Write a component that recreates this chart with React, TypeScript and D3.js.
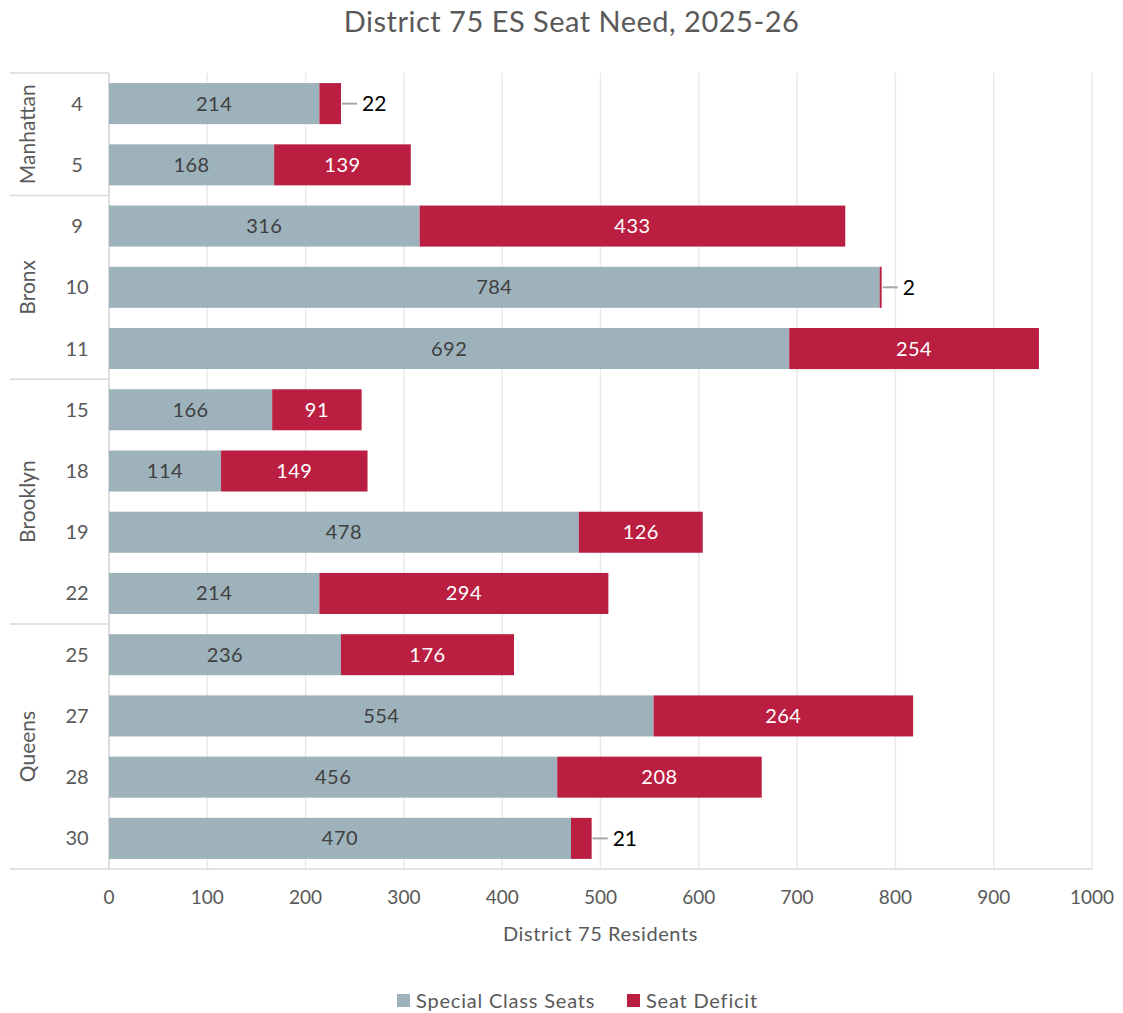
import React from "react";
import * as d3 from "d3";

const boroughs = ["Manhattan", "Bronx", "Brooklyn", "Queens"];
const districts = ["4", "5", "9", "10", "11", "15", "18", "19", "22", "25", "27", "28", "30"];
const districtBorough = ["Manhattan", "Manhattan", "Bronx", "Bronx", "Bronx", "Brooklyn", "Brooklyn", "Brooklyn", "Brooklyn", "Queens", "Queens", "Queens", "Queens"];
const specialSeats = [214, 168, 316, 784, 692, 166, 114, 478, 214, 236, 554, 456, 470];
const seatDeficit = [22, 139, 433, 2, 254, 91, 149, 126, 294, 176, 264, 208, 21];
const xTicks = [0, 100, 200, 300, 400, 500, 600, 700, 800, 900, 1000];
const seriesNames = ["Special Class Seats", "Seat Deficit"];

const W = 1123, H = 1013;
const FONT = "Lato, 'Open Sans', sans-serif";
const GRAY = "#9DB2BA";
const RED = "#BA1E40";

export default function App() {
  const left = 109, right = 1092, top = 73, bottom = 869;
  const x = d3.scaleLinear().domain([0, 1000]).range([left, right]);
  const y = d3.scaleBand().domain(districts).range([top, bottom]).paddingInner(0.33).paddingOuter(0.165);
  const step = y.step();
  const bw = y.bandwidth();

  const groups = boroughs.map((b) => {
    const idx = districtBorough.map((d, i) => (d === b ? i : -1)).filter((i) => i >= 0);
    const first = idx[0], last = idx[idx.length - 1];
    const y0 = top + first * step;
    const y1 = top + (last + 1) * step;
    return { b, y0, y1 };
  });

  return (
    <svg width={W} height={H} style={{ position: "absolute", left: 0, top: 0, background: "#fff" }} fontFamily={FONT}>
      <text x={W / 2 + 10} y={32} textAnchor="middle" fontSize={29} fill="#595959" letterSpacing={0.5}>District 75 ES Seat Need, 2025-26</text>

      {xTicks.map((t) => (
        <line key={t} x1={x(t)} x2={x(t)} y1={top} y2={bottom} stroke="#e9e9e9" strokeWidth={1.5} />
      ))}

      <line x1={left} x2={left} y1={top} y2={bottom} stroke="#d9d9d9" strokeWidth={1.5} />
      <line x1={10} x2={right} y1={bottom} y2={bottom} stroke="#d9d9d9" strokeWidth={1.5} />
      {groups.map((g) => (
        <line key={g.b} x1={10} x2={left} y1={g.y0} y2={g.y0} stroke="#d9d9d9" strokeWidth={1.5} />
      ))}
      {groups.map((g) => (
        <text key={g.b + "t"} transform={`translate(35,${(g.y0 + g.y1) / 2}) rotate(-90)`} textAnchor="middle" fontSize={21} fill="#595959">{g.b}</text>
      ))}
      {districts.map((d) => (
        <text key={d} x={77} y={y(d)! + bw / 2} dy="0.35em" textAnchor="middle" fontSize={20} fill="#595959">{d}</text>
      ))}

      {districts.map((d, i) => {
        const s = specialSeats[i], def = seatDeficit[i];
        const yy = y(d)!;
        const xs = x(s), xe = x(s + def);
        const small = def < 40;
        return (
          <g key={d}>
            <rect x={x(0)} y={yy} width={xs - x(0)} height={bw} fill={GRAY} />
            <rect x={xs} y={yy} width={xe - xs} height={bw} fill={RED} />
            <text x={(x(0) + xs) / 2} y={yy + bw / 2} dy="0.35em" textAnchor="middle" fontSize={20} fill="#404040" letterSpacing={0.5}>{s}</text>
            {small ? (
              <g>
                <line x1={xe + 1} x2={xe + 16} y1={yy + bw / 2} y2={yy + bw / 2} stroke="#a6a6a6" strokeWidth={2} />
                <text x={xe + 21} y={yy + bw / 2} dy="0.35em" fontSize={21} fill="#000">{def}</text>
              </g>
            ) : (
              <text x={(xs + xe) / 2} y={yy + bw / 2} dy="0.35em" textAnchor="middle" fontSize={20} fill="#fff" letterSpacing={0.5}>{def}</text>
            )}
          </g>
        );
      })}

      {xTicks.map((t) => (
        <text key={"l" + t} x={x(t)} y={904} textAnchor="middle" fontSize={19} fill="#595959">{t}</text>
      ))}
      <text x={(left + right) / 2} y={941} textAnchor="middle" fontSize={20} fill="#595959" letterSpacing={0.6}>District 75 Residents</text>

      <g>
        <rect x={397} y={994} width={13} height={13} fill={GRAY} />
        <text x={416} y={1001} dy="0.35em" fontSize={20} fill="#595959" letterSpacing={0.8}>{seriesNames[0]}</text>
        <rect x={627} y={994} width={13} height={13} fill={RED} />
        <text x={646} y={1001} dy="0.35em" fontSize={20} fill="#595959" letterSpacing={0.8}>{seriesNames[1]}</text>
      </g>
    </svg>
  );
}
